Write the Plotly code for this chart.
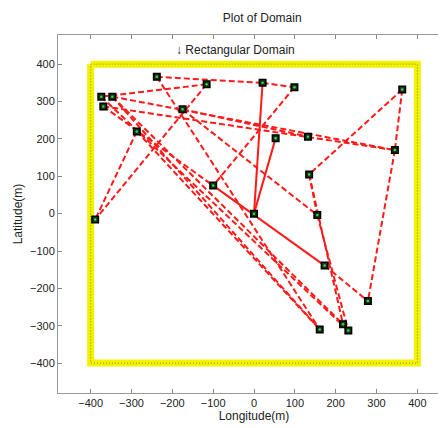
import plotly.graph_objects as go

# Node coordinates (m)
node_x = [-238, -116, 21, 99, -374, -347, -369, -175, -287, 53, 132, 363, 345, 135,
          -389, -100, 0, 155, 173, 279, 161, 218, 231]
node_y = [366, 346, 350, 338, 313, 313, 287, 279, 220, 202, 206, 332, 170, 105,
          -16, 75, 0, -4, -139, -234, -310, -296, -313]

# Edges (1-based node ids)
dashed_edges = [(1, 3), (3, 4), (2, 5), (2, 15), (9, 15), (1, 21), (4, 16), (7, 16),
                (8, 18), (8, 11), (6, 13), (7, 13), (12, 13), (12, 14), (13, 20),
                (14, 18), (14, 22), (18, 23), (19, 20), (6, 21), (6, 22), (5, 23),
                (9, 21)]
solid_edges = [(3, 17), (10, 17), (16, 19)]

# Rectangular domain corners
dom_x = [-400, 400, 400, -400, -400]
dom_y = [400, 400, -400, -400, 400]

ticks = [-400, -300, -200, -100, 0, 100, 200, 300, 400]


def edge_xy(edges):
    xs, ys = [], []
    for a, b in edges:
        xs += [node_x[a - 1], node_x[b - 1], None]
        ys += [node_y[a - 1], node_y[b - 1], None]
    return xs, ys


fig = go.Figure()

fig.add_trace(go.Scatter(x=dom_x, y=dom_y, mode="lines",
                         line=dict(color="#f2f200", width=7), hoverinfo="skip"))
fig.add_trace(go.Scatter(x=dom_x, y=dom_y, mode="lines",
                         line=dict(color="#8a8a20", width=1, dash="1px,2px"), hoverinfo="skip"))

dx, dy = edge_xy(dashed_edges)
fig.add_trace(go.Scatter(x=dx, y=dy, mode="lines",
                         line=dict(color="#ff1a1a", width=2, dash="6px,3px")))
sx, sy = edge_xy(solid_edges)
fig.add_trace(go.Scatter(x=sx, y=sy, mode="lines",
                         line=dict(color="#ff1a1a", width=2)))

fig.add_trace(go.Scatter(x=node_x, y=node_y, mode="markers",
                         marker=dict(symbol="square", size=6.5, color="#17331a",
                                     line=dict(color="#000000", width=1.5))))
fig.add_trace(go.Scatter(x=node_x, y=node_y, mode="markers",
                         marker=dict(symbol="circle", size=2.5, color="#33dd33",
                                     line=dict(width=0))))

fig.add_annotation(x=-197, y=437, xref="x", yref="y", text="↓ Rectangular Domain",
                   showarrow=False, xanchor="left", yanchor="middle",
                   font=dict(family="Liberation Sans, Arial", size=12, color="#222222"))

fig.update_layout(
    width=446, height=428,
    margin=dict(l=50, r=4, t=27, b=43),
    paper_bgcolor="white", plot_bgcolor="white",
    showlegend=False,
    title=dict(text="Plot of Domain", x=0.57, xanchor="center", y=0.977, yanchor="middle",
               font=dict(family="Liberation Sans, Arial", size=12, color="#222222")),
    font=dict(family="Liberation Sans, Arial", size=11, color="#222222"),
)
fig.update_xaxes(range=[-480, 480], tickvals=ticks, ticks="inside", ticklen=4,
                 tickcolor="#888888", showline=True, linecolor="#999999", mirror="ticks",
                 showgrid=False, zeroline=False, automargin=False,
                 title=dict(text="Longitude(m)", standoff=3,
                            font=dict(size=12, color="#222222")))
fig.update_yaxes(range=[-480, 478], tickvals=ticks, ticks="inside", ticklen=4,
                 tickcolor="#888888", showline=True, linecolor="#999999",
                 showgrid=False, zeroline=False, automargin=False,
                 title=dict(text="Latitude(m)", standoff=4,
                            font=dict(size=12, color="#222222")))

fig.write_html("out.html")
